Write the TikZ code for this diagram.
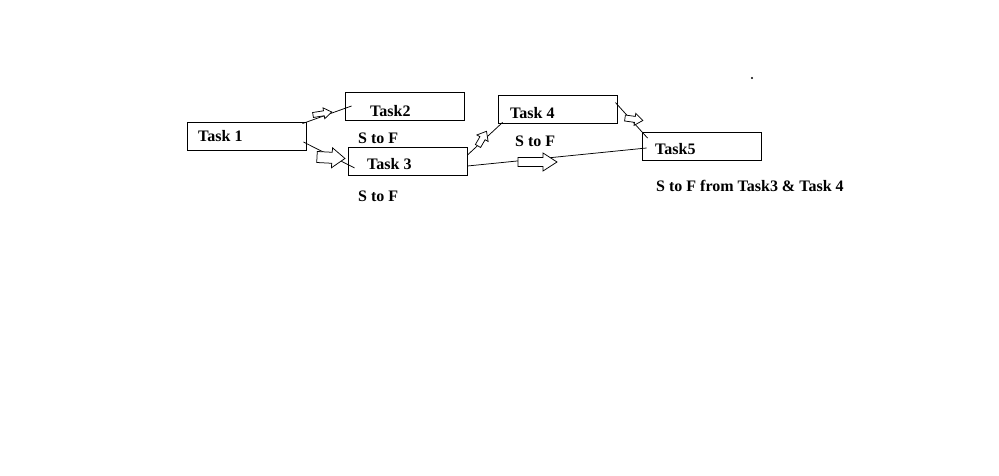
\documentclass[tikz,border=0pt]{standalone}
\usepackage{fontspec}
\setmainfont{Liberation Serif}
\newcommand\blockarrow[7]{%
  \draw[barrow,shift={(#1,#2)},rotate=#3] (0,-#6) -- (#4-#5,-#6) -- (#4-#5,-#7) -- (#4,0) -- (#4-#5,#7) -- (#4-#5,#6) -- (0,#6) -- cycle;}
\begin{document}
\begin{tikzpicture}[x=1pt,y=-1pt,
  box/.style={draw,line width=0.9pt,minimum width=119pt,minimum height=28pt,inner sep=0pt},
  lbl/.style={anchor=base west,inner sep=0pt,font=\fontsize{16}{18}\selectfont\bfseries},
  conn/.style={line width=0.75pt},
  barrow/.style={draw,line width=0.75pt,fill=white}]
\useasboundingbox (0,0) rectangle (999,476);
\fill[white] (0,0) rectangle (999,476);
% boxes
\node[box] (t1) at (246.5,136) {};
\node[box] (t2) at (404.5,106) {};
\node[box] (t3) at (407.5,161.5) {};
\node[box] (t4) at (557.5,109) {};
\node[box] (t5) at (701.5,146.5) {};
% texts
\node[lbl] (l1) at (198,142) {Task 1};
\node[lbl] (l2) at (370,116.5) {Task2};
\node[lbl] (l3) at (367,169.5) {Task 3};
\node[lbl] (l4) at (510,118.5) {Task 4};
\node[lbl] (l5) at (655,155) {Task5};
\node[lbl] (s1) at (358,143.5) {S to F};
\node[lbl] (s2) at (358,201.5) {S to F};
\node[lbl] (s3) at (515,146.5) {S to F};
\node[lbl] (s4) at (656,192) {S to F from Task3 \& Task 4};
% connectors
\draw[conn] ([shift={(-4,2)}]t1.north east) -- ([shift={(7,0)}]t2.west);
\draw[conn] ([shift={(-3,6)}]t1.east) -- ([shift={(7,-8)}]t3.south west);
\draw[conn] ([shift={(0,8)}]t3.north east) -- ([shift={(5,-1)}]t4.south west);
\draw[conn] ([shift={(0,4.5)}]t3.east) -- ([shift={(5,1.5)}]t5.west);
\draw[conn] ([shift={(-2,8)}]t4.north east) -- ([shift={(6,6)}]t5.north west);
% block arrows
\blockarrow{313}{115}{9}{19}{8}{2.5}{5.5}
\blockarrow{317}{157}{-3}{28}{13}{5.5}{10}
\blockarrow{478}{146}{60}{17}{8}{3}{6.5}
\blockarrow{518}{162}{0}{39}{14}{4.5}{9}
\blockarrow{625}{118}{-8}{18}{8}{3}{6}
% stray dot
\fill (752,78) circle (1.2);
\end{tikzpicture}
\end{document}
